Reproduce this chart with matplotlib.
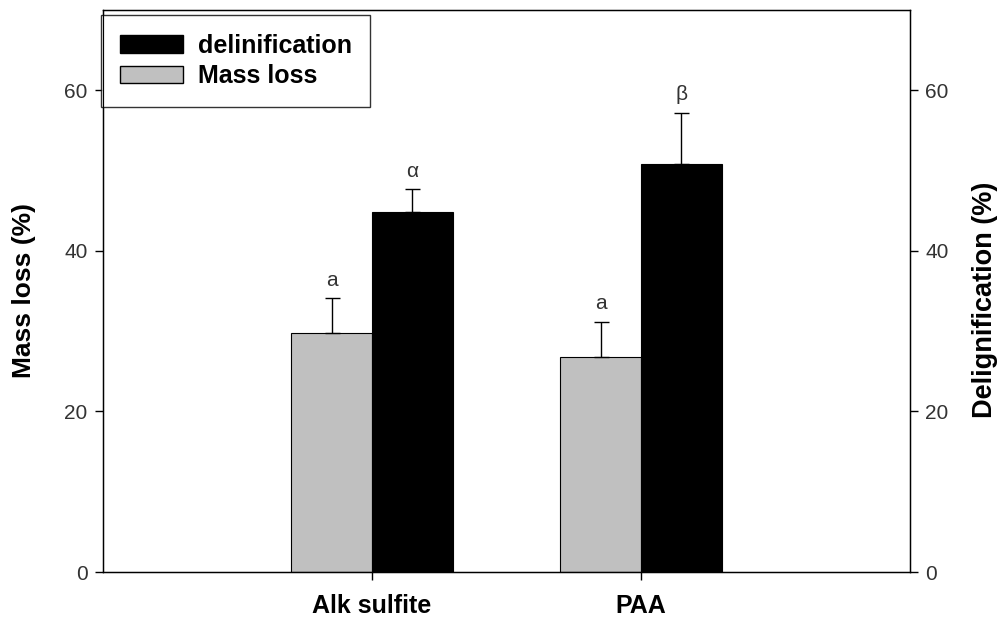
import matplotlib
matplotlib.use("Agg")
import matplotlib.pyplot as plt
import numpy as np
from matplotlib.patches import Patch

plt.rcParams['font.family'] = ['Liberation Sans', 'DejaVu Sans']

categories = ["Alk sulfite", "PAA"]
mass_loss = [29.8, 26.8]
mass_loss_err = [4.3, 4.4]
delig = [44.8, 50.8]
delig_err = [2.9, 6.4]
mass_letters = ["a", "a"]
delig_letters = ["α", "β"]

fig = plt.figure(figsize=(10, 6.19), dpi=100)
ax = fig.add_axes([0.103, 0.0759, 0.807, 0.908])

x = np.array([1, 2])
w = 0.3
gray = "#c0c0c0"

ax.bar(x - w/2, mass_loss, width=w, color=gray, edgecolor="black", linewidth=0.8, zorder=2)
ax.bar(x + w/2, delig, width=w, color="black", edgecolor="black", linewidth=0.8, zorder=2)
ax.errorbar(x - w/2, mass_loss, yerr=[np.zeros(2), mass_loss_err], fmt="none",
            ecolor="black", elinewidth=1, capsize=5.4, capthick=1, zorder=3)
ax.errorbar(x + w/2, delig, yerr=[np.zeros(2), delig_err], fmt="none",
            ecolor="black", elinewidth=1, capsize=5.4, capthick=1, zorder=3)

for xi, v, e, t in zip(x - w/2, mass_loss, mass_loss_err, mass_letters):
    ax.annotate(t, (xi, v + e), xytext=(0, 6), textcoords="offset points",
                ha="center", va="bottom", fontsize=15, color="#333333")
for xi, v, e, t in zip(x + w/2, delig, delig_err, delig_letters):
    ax.annotate(t, (xi, v + e), xytext=(0, 6), textcoords="offset points",
                ha="center", va="bottom", fontsize=15, color="#333333")

ax.set_xlim(0, 3)
ax.set_ylim(0, 70)
ax.set_yticks([0, 20, 40, 60])
ax.set_xticks(x)
ax.set_xticklabels(categories, fontsize=18, fontweight="bold")
ax.tick_params(axis="x", direction="out", length=6, width=1, pad=10)
ax.tick_params(axis="y", direction="out", length=6, width=1, labelsize=15, pad=5,
               labelcolor="#333333")
for s in ax.spines.values():
    s.set_linewidth(1)

ax2 = ax.twinx()
ax2.set_ylim(0, 70)
ax2.set_yticks([0, 20, 40, 60])
ax2.tick_params(axis="y", direction="out", length=6, width=1, labelsize=15, pad=5,
                labelcolor="#333333")

fig.text(0.024, 1 - 290/619, "Mass loss (%)", rotation=90, ha="center", va="center",
         fontsize=19, fontweight="bold")
fig.text(0.985, 1 - 300/619, "Delignification (%)", rotation=90, ha="center", va="center",
         fontsize=19.5, fontweight="bold")

handles = [Patch(facecolor="black", edgecolor="black"),
           Patch(facecolor=gray, edgecolor="black")]
leg = ax.legend(handles, ["delinification", "Mass loss"], loc="upper left",
                bbox_to_anchor=(-0.002, 0.991), frameon=True, fancybox=False,
                edgecolor="black", prop={"size": 18, "weight": "bold"},
                handlelength=2.5, handleheight=0.68, labelspacing=0.25,
                borderpad=0.75, handletextpad=0.6, borderaxespad=0.0)
leg.get_frame().set_linewidth(1)

fig.savefig("out.png", dpi=100)
